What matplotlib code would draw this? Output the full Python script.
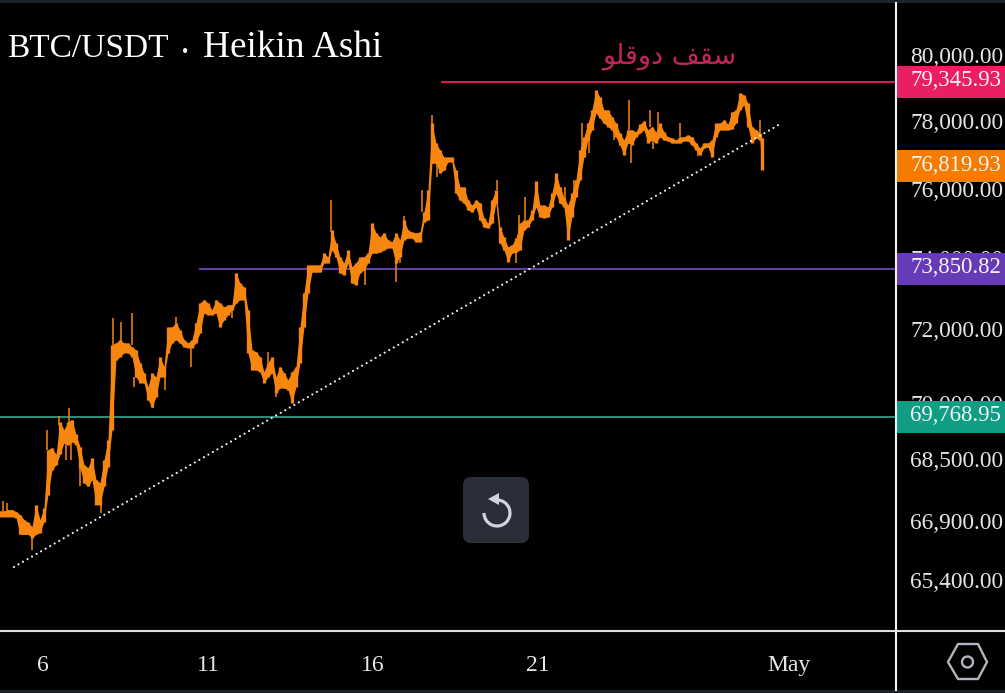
import matplotlib
matplotlib.use('Agg')
import matplotlib.pyplot as plt
from matplotlib.patches import Rectangle, FancyBboxPatch, Polygon, Circle, Arc
import numpy as np

# cuerpos de las velas, precio arriba / abajo, una vela cada 0.1212 dias desde el dia 4.697
body_top = [67300,67300,67330,67330,67280,67200,67070,67000,66890,67460,67070,67380,68900,68950,68770,69640,
    69430,69640,69700,69300,68980,68500,68420,68690,68110,68030,68630,69160,71730,71780,71870,71780,71780,71670,
    71590,71240,70960,70580,70960,70850,71400,71130,72220,72220,72340,72140,71870,71780,71870,72340,72890,72980,
    72890,72700,72980,72890,72780,72840,72840,73740,73450,73340,72700,71590,71540,71400,70990,71240,71400,70850,
    71130,70960,70770,70990,71130,72220,73170,73960,73960,73960,73960,74300,74190,74960,74590,74190,74020,74390,
    73910,74020,74190,74190,74300,75160,74880,74760,74880,74680,74620,74880,74680,75250,74960,74900,74880,74900,
    75480,76120,78100,77510,77300,77090,77090,77090,76710,76210,76210,75830,75680,75830,75740,75310,75160,75830,
    76120,75050,74760,74480,74530,74730,75160,75250,75250,75540,76390,75680,75680,75630,76030,76620,76210,75920,
    75680,76030,76420,77300,77690,78100,78500,79100,78890,78500,78500,78290,78100,77800,77600,77900,77900,77840,
    78070,78170,77900,78000,77840,78100,77840,77690,77660,77600,77690,77690,77750,77690,77510,77360,77510,77510,
    77600,78100,78100,78200,78070,78430,78500,79010,78950,78710,78000,77900,77810,77660]
body_bot = [67150,67150,67150,67150,67125,66690,66690,66690,66610,66690,66740,67020,67720,68370,68500,68770,
    69080,69030,69110,69030,68420,68030,67930,68110,67460,67460,67930,68450,69430,71320,71400,71510,71510,71400,
    70850,70690,70690,70230,70040,70310,70850,70850,71510,71780,71870,71780,71670,71650,71650,71780,72060,72610,
    72560,72560,72610,72220,72420,72560,72700,72890,72980,72980,71510,71040,71040,70990,70690,70850,70960,70420,
    70550,70550,70500,70150,70580,71240,72220,73170,73760,73760,73760,74020,74020,74390,74190,73740,73680,74020,
    73450,73400,73740,73820,74020,74300,74300,74330,74390,74450,74450,74020,74190,74680,74730,74730,74620,74620,
    75190,75250,76910,76910,76620,76710,76950,76950,76030,75830,75740,75540,75480,75630,75250,75050,75020,75160,
    75740,74590,74390,74050,74300,74330,74390,74960,75050,75250,75630,75340,75310,75340,75630,76030,75740,75630,
    74680,75340,75920,76420,77090,77600,77900,78410,78250,78100,78000,77900,77690,77450,77150,77510,77450,77690,
    77810,77900,77510,77600,77510,77690,77600,77570,77510,77510,77510,77570,77570,77450,77300,77150,77360,77390,
    77090,77690,77900,77900,77900,77930,78100,78500,78650,78000,77510,77660,77600,76710]

# mechas sueltas: dia, precio alto, precio bajo
wick_day = [4.79,4.91,5.67,6.12,6.49,6.79,6.70,6.85,7.12,7.76,8.12,8.70,8.36,8.76,10.03,10.48,9.70,9.33,11.73,
    12.82,13.06,14.73,15.76,16.70,16.94,17.79,16.82,17.49,17.94,19.76,20.33,20.42,20.61,21.82,22.09,22.33,22.55,
    23.30,23.76,23.82,24.39,24.48,24.64,25.30,25.85,27.73]
wick_high = [67540,67510,66610,69430,69800,70020,69080,69110,68420,67460,72470,72610,72360,70850,72500,71730,70850,70230,72700,
    71540,70420,75830,73820,74020,75360,78340,74190,76120,76910,76420,74330,75400,75920,76210,76420,78100,77600,
    77900,78800,77450,78500,77600,78430,78100,77300,78200]
wick_low = [67300,67300,66305,68900,69560,69560,68630,68630,67930,67230,71730,71730,71730,70580,71870,71130,70500,70020,72470,
    71240,70310,74900,73400,73480,75100,78040,74020,75480,76500,76120,74020,74730,75250,75920,76030,77300,77210,
    77600,77900,76910,78000,77330,77840,77690,77120,77810]

# lineas horizontales: precio, dia de inicio, color
level_price = [79345.93, 73850.82, 69768.95]
level_start = [18.06, 10.73, 4.697]
level_color = ['#d81b5a', '#5e3ea1', '#2e8b76']

trend_day = [5.12, 28.33]
trend_price = [65862, 78070]

y_ticks = [80000, 78000, 76000, 74000, 72000, 70000, 68500, 66900, 65400]
x_ticks = [6, 11, 16, 21, 28.6]
x_labels = ['6', '11', '16', '21', 'May']

# etiquetas de precio del eje derecho
tag_price = [79345.93, 76819.93, 73850.82, 69768.95]
tag_color = ['#e91e63', '#f57c00', '#673ab7', '#0f9d83']

plt.rcParams['font.family'] = ['Liberation Serif', 'DejaVu Serif']
NARANJA = '#f7860f'
BLANCO = '#e6e6e6'

fig = plt.figure(figsize=(10.05, 6.93), dpi=100, facecolor='black')
ax = fig.add_axes([0, 62 / 693, 896 / 1005, 631 / 693], facecolor='black')
ax.set_yscale('log')
ax.set_xlim(4.697, 31.85)
ax.set_ylim(64263, 81884)

dias = 4.697 + np.arange(len(body_top)) * 0.1212
dias[-1] = dias[-2] + 0.06
ax.vlines(wick_day, wick_low, wick_high, color=NARANJA, lw=1.1, zorder=3)
ax.fill_between(dias, body_bot, body_top, color=NARANJA, lw=0, zorder=3)
ax.vlines(dias, body_bot, body_top, color=NARANJA, lw=2.4, zorder=3)

for precio, inicio, color in zip(level_price, level_start, level_color):
    ax.hlines(precio, inicio, 31.85, color=color, lw=1.5, zorder=2)
ax.plot(trend_day, trend_price, color='#f0f0f0', lw=1.6, ls=(0, (0.01, 2.34)),
        dash_capstyle='round', zorder=4)

ax.set_xticks(x_ticks, x_labels)
ax.set_yticks([])
ax.minorticks_off()
ax.tick_params(axis='x', length=0, pad=17, labelsize=17, labelcolor=BLANCO)
for s in ax.spines.values():
    s.set_visible(False)

for p in y_ticks:
    ax.annotate(f'{p:,.2f}', xy=(1, p), xycoords=('axes fraction', 'data'), xytext=(14, 3),
                textcoords='offset pixels', va='center', ha='left', color=BLANCO,
                fontsize=16.8, annotation_clip=False)

# capa de interfaz en pixeles
ov = fig.add_axes([0, 0, 1, 1], facecolor='none')
ov.set_xlim(0, 1005)
ov.set_ylim(693, 0)
ov.axis('off')

ov.text(7, 57, 'BTC/USDT', color='white', fontsize=24)
ov.text(182, 57, '\u2022', color='white', fontsize=13)
ov.text(203, 57, 'Heikin Ashi', color='white', fontsize=26.8)

ov.add_patch(Rectangle((0, 0), 1005, 3, color='#1e222d', lw=0))
ov.add_patch(Rectangle((0, 690), 1005, 3, color='#1e222d', lw=0))
ov.plot([896, 896], [3, 690], color='#f2f2f2', lw=1.5)
ov.plot([0, 1005], [631, 631], color='#e0e0e0', lw=1.5)

for precio, color in zip(tag_price, tag_color):
    yp = 693 - ax.transData.transform((5, precio))[1]
    ov.add_patch(Rectangle((896, yp - 16), 109, 32, color=color, lw=0))
    ov.text(910, yp - 1, f'{precio:,.2f}', color='#f4f4f4', fontsize=16.4, va='center', ha='left')

# texto persa ya en formas de presentacion y orden visual
ov.text(669.5, 56, '\uFEEE\uFEE0\uFED7\uFEED\uFEA9 \uFED2\uFED8\uFEB3', color='#c2255c', fontsize=19.5,
        family=['DejaVu Sans'], ha='center', va='center')

# boton de recarga
ov.add_patch(FancyBboxPatch((469, 483), 54, 54, boxstyle='round,pad=6,rounding_size=8', lw=0,
                            color='#2a2e39', mutation_scale=1))
ov.add_patch(Arc((497, 513), 26, 26, theta1=270, theta2=180, color='#d1d4dc', lw=2.3))
ov.add_patch(Polygon([(488, 499), (499, 493), (499, 505)], color='#d1d4dc', lw=0))

# hexagono de ajustes
ov.add_patch(Polygon([(948, 662), (958, 644), (978, 644), (987, 662), (978, 679), (958, 679)],
                     fill=False, edgecolor='#b2b5be', lw=1.7))
ov.add_patch(Circle((967.5, 662), 5.5, fill=False, edgecolor='#b2b5be', lw=1.7))

fig.savefig('out.png', dpi=100, facecolor='black')
